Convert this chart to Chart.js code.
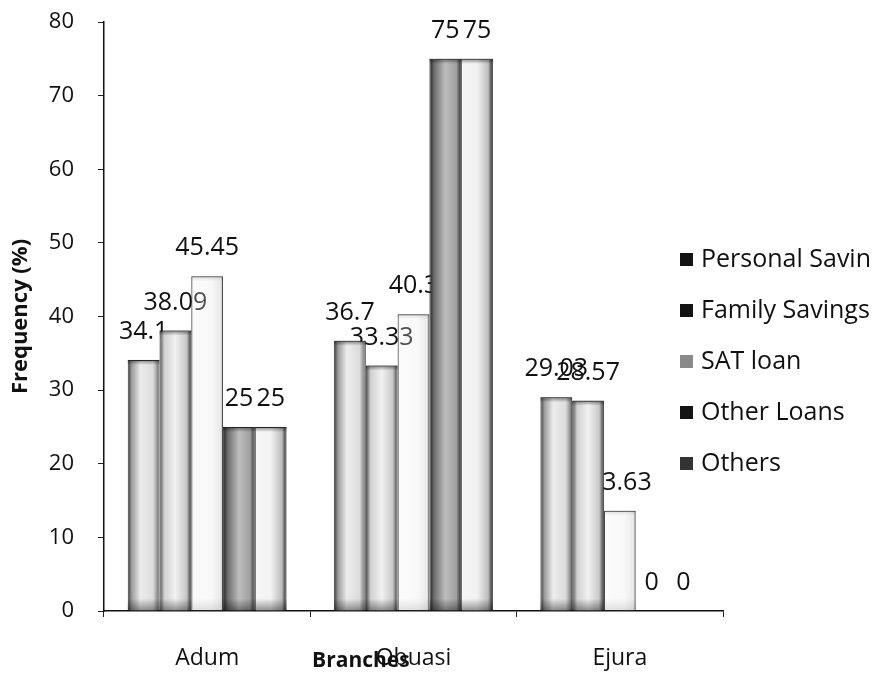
<!DOCTYPE html>
<html>
<head>
<meta charset="utf-8">
<script src="https://cdn.jsdelivr.net/npm/chart.js@4.4.0/dist/chart.umd.min.js"></script>
<style>
  body { margin: 0; background: #fff; }
  #wrap { position: relative; width: 873px; height: 678px; }
  #legend { position: absolute; left: 680px; top: 232px; font-family: "Open Sans", sans-serif; font-size: 25px; color: #111; }
  #legend div { height: 51px; line-height: 51px; white-space: nowrap; }
  #legend span { display: inline-block; width: 13px; height: 13px; margin-right: 8px; vertical-align: 1px; }
</style>
</head>
<body>
<div id="wrap">
  <canvas id="freqChart" width="873" height="678"></canvas>
  <div id="legend"></div>
</div>
<script>
const branches = ["Adum", "Obuasi", "Ejura"];
const seriesNames = ["Personal Savin", "Family Savings", "SAT loan", "Other Loans", "Others"];
const personalSavings = [34.1, 36.7, 29.03];
const familySavings = [38.09, 33.33, 28.57];
const satLoan = [45.45, 40.3, 13.63];
const otherLoans = [25, 75, 0];
const others = [25, 75, 0];

// grey shading across each bar, left edge to right edge.
// SAT loan is a see-through fill, so labels behind it stay readable.
const SHADES = [
  [[0, "#2e2e2e"], [0.12, "#9a9a9a"], [0.4, "#ececec"], [0.8, "#dcdcdc"], [1, "#6a6a6a"]],
  [[0, "#4a4a4a"], [0.15, "#d0d0d0"], [0.5, "#f2f2f2"], [0.85, "#c8c8c8"], [1, "#3a3a3a"]],
  [[0, "rgba(240,240,240,0.25)"], [0.6, "rgba(235,235,235,0.3)"], [0.92, "rgba(200,200,200,0.4)"], [1, "rgba(110,110,110,0.6)"]],
  [[0, "#1e1e1e"], [0.15, "#6e6e6e"], [0.5, "#bdbdbd"], [0.85, "#a0a0a0"], [1, "#2e2e2e"]],
  [[0, "#f6f6f6"], [0.5, "#f2f2f2"], [0.85, "#bdbdbd"], [1, "#1e1e1e"]]
];
const RIM = [0.45, 0.45, 0.12, 0.45, 0.45];
const LEGEND_COLORS = ["#141414", "#141414", "#8a8a8a", "#141414", "#333333"];
const FONT = "'Open Sans', sans-serif";

const seriesData = [personalSavings, familySavings, satLoan, otherLoans, others];

// value labels sit underneath the bars
const valueLabels = {
  id: "valueLabels",
  beforeDatasetsDraw(chart) {
    const ctx = chart.ctx;
    ctx.save();
    ctx.font = "25px " + FONT;
    ctx.fillStyle = "#111";
    ctx.textAlign = "center";
    ctx.textBaseline = "middle";
    chart.data.datasets.forEach((ds, i) => {
      chart.getDatasetMeta(i).data.forEach((bar, j) => {
        ctx.fillText(String(ds.data[j]), bar.x, bar.y - 28);
      });
    });
    ctx.restore();
  }
};

const barShading = {
  id: "barShading",
  beforeDatasetsDraw(chart) {
    const ctx = chart.ctx;
    chart.data.datasets.forEach((ds, i) => {
      chart.getDatasetMeta(i).data.forEach(bar => {
        const left = bar.x - bar.width / 2;
        const g = ctx.createLinearGradient(left, 0, left + bar.width, 0);
        SHADES[i].forEach(([stop, col]) => g.addColorStop(stop, col));
        bar.options = Object.assign({}, bar.options, { backgroundColor: g });
      });
    });
  },
  afterDatasetsDraw(chart) {
    // darker rim along the top and foot of every bar
    const ctx = chart.ctx;
    chart.data.datasets.forEach((ds, i) => {
      chart.getDatasetMeta(i).data.forEach(bar => {
        const h = bar.base - bar.y;
        if (h < 4) return;
        const a = RIM[i];
        const g = ctx.createLinearGradient(0, bar.y, 0, bar.base);
        g.addColorStop(0, `rgba(0,0,0,${a})`);
        g.addColorStop(Math.min(0.5, 5 / h), "rgba(0,0,0,0)");
        g.addColorStop(Math.max(0.5, 1 - 12 / h), "rgba(0,0,0,0)");
        g.addColorStop(1, `rgba(0,0,0,${a * 0.9})`);
        ctx.fillStyle = g;
        ctx.fillRect(bar.x - bar.width / 2, bar.y, bar.width, h);
      });
    });
  }
};

const xTitle = {
  id: "xTitle",
  afterDraw(chart) {
    const ctx = chart.ctx;
    const area = chart.chartArea;
    ctx.save();
    ctx.font = "bold 21px " + FONT;
    ctx.fillStyle = "#111";
    ctx.textAlign = "center";
    ctx.textBaseline = "middle";
    ctx.fillText("Branches", area.left + (area.right - area.left) * 0.415, 661);
    ctx.restore();
  }
};

new Chart(document.getElementById("freqChart"), {
  type: "bar",
  data: {
    labels: branches,
    datasets: seriesNames.map((name, i) => ({
      label: name,
      data: seriesData[i],
      backgroundColor: LEGEND_COLORS[i],
      borderColor: "rgba(30,30,30,0.85)",
      borderWidth: 1,
      categoryPercentage: 0.77,
      barPercentage: 1.0
    }))
  },
  options: {
    responsive: false,
    animation: false,
    layout: { padding: { top: 22, right: 150, bottom: 0, left: 0 } },
    plugins: {
      legend: { display: false },
      tooltip: { enabled: false }
    },
    scales: {
      x: {
        afterFit: s => { s.height = 67; },
        grid: { drawOnChartArea: false, drawTicks: true, tickLength: 6, color: "#222" },
        border: { display: true, color: "#111", width: 1.5 },
        ticks: { font: { family: FONT, size: 23 }, color: "#111", padding: 28 }
      },
      y: {
        min: 0,
        max: 80,
        afterFit: s => { s.width = 104; s.paddingTop = 0; s.paddingBottom = 0; },
        ticks: { stepSize: 10, font: { family: FONT, size: 22 }, color: "#111", padding: 24 },
        grid: { drawOnChartArea: false, drawTicks: true, tickLength: 6, color: "#222" },
        border: { display: true, color: "#111", width: 1.5 },
        title: {
          display: true,
          text: "Frequency (%)",
          font: { family: FONT, size: 22, weight: "bold" },
          color: "#111",
          padding: { top: 8, bottom: 0 }
        }
      }
    }
  },
  plugins: [valueLabels, barShading, xTitle]
});

document.getElementById("legend").innerHTML = seriesNames.map((name, i) =>
  `<div><span style="background:${LEGEND_COLORS[i]}"></span>${name}</div>`
).join("");
</script>
</body>
</html>
